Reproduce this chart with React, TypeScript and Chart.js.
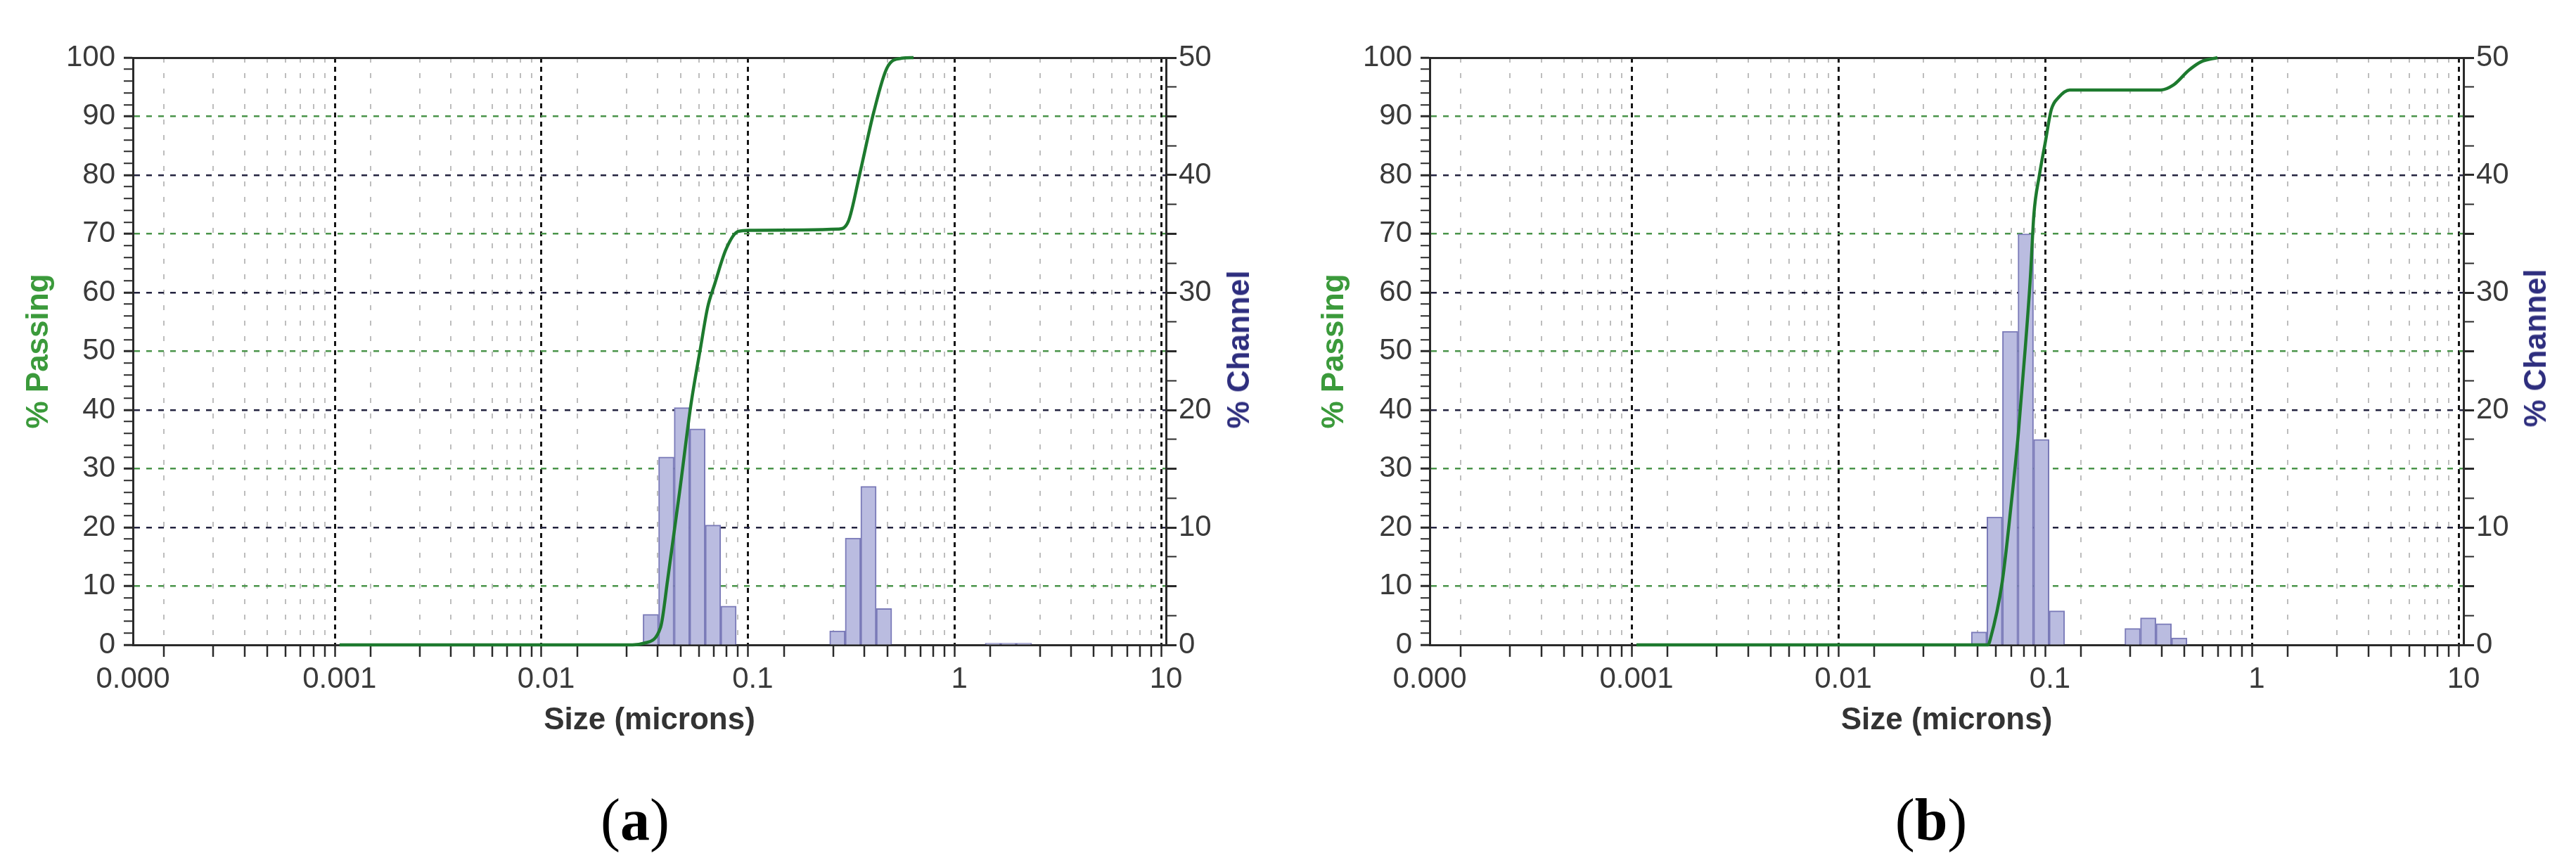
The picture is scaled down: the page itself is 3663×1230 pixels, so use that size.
import React, { useEffect, useRef } from 'react';
import { Chart, registerables } from 'chart.js';

Chart.register(...registerables);

// ---------- axis tick data ----------
const DECADES = [0.0001, 0.001, 0.01, 0.1, 1, 10];
const DECADE_LABELS = ['0.000', '0.001', '0.01', '0.1', '1', '10'];
const MINOR_MULTIPLIERS = [1, 2, 3, 4, 5, 6, 7, 8, 9];

// ---------- panel (a) ----------
const CHANNEL_SIZE_A = [0.0321, 0.03817, 0.0454, 0.05399, 0.0642, 0.07635, 0.2568, 0.3054, 0.3632, 0.4319, 1.4527, 1.7276, 2.0545];
const CHANNEL_PCT_A = [2.6, 16.0, 20.2, 18.4, 10.2, 3.3, 1.2, 9.1, 13.5, 3.1, 0.15, 0.15, 0.15];
const CURVE_SIZE_A = [0.001, 0.0262, 0.0299, 0.0358, 0.0387, 0.0443, 0.0502, 0.056, 0.0605, 0.0655, 0.0743, 0.0849, 0.0968, 0.26, 0.29, 0.329, 0.385, 0.447, 0.526, 0.6];
const PASSING_A = [0, 0, 0.3, 3.0, 11, 26.2, 40.9, 50.8, 57.5, 61.5, 67.4, 70.4, 70.6, 70.8, 72.1, 80.1, 90.7, 98.3, 99.9, 100];

// ---------- panel (b) ----------
const CHANNEL_SIZE_B = [0.0454, 0.05399, 0.0642, 0.07635, 0.0908, 0.108, 0.251, 0.2985, 0.355, 0.4222];
const CHANNEL_PCT_B = [1.1, 10.9, 26.7, 35.0, 17.5, 2.9, 1.4, 2.3, 1.8, 0.6];
const CURVE_SIZE_B = [0.001, 0.0502, 0.0514, 0.0588, 0.065, 0.0703, 0.076, 0.0804, 0.0836, 0.0889, 0.0946, 0.1016, 0.1099, 0.1245, 0.344, 0.394, 0.471, 0.538, 0.646];
const PASSING_B = [0, 0, 0.9, 10.8, 24.1, 36, 50.7, 62.6, 73.3, 80, 85.3, 91.2, 93.2, 94.5, 94.5, 95.3, 97.9, 99.3, 100];

// ---------- styles ----------
const SANS = 'Arial, "Liberation Sans", sans-serif';
const TICK_FONT = { family: SANS, size: 42 };
const TITLE_FONT = { family: SANS, size: 44, weight: 'bold' as const };
const TICK_COLOR = '#3a3a3a';
const AXIS_COLOR = '#2a2a2a';
const GREEN_GRID = '#4a944a';
const DARK_GRID = '#23233f';
const DECADE_GRID = '#151515';
const MINOR_GRID = '#bdbdbd';
const CURVE_COLOR = '#1d7a2e';
const BAR_FILL = '#babce0';
const BAR_BORDER = '#7a7ab8';
const PASSING_TITLE = '#3b9a3b';
const CHANNEL_TITLE = '#2e2e7e';
const BAR_WIDTH_PX = 22;

const X_TICKS: number[] = [];
for (let i = 0; i < DECADES.length - 1; i++) {
  for (const m of MINOR_MULTIPLIERS) X_TICKS.push(DECADES[i] * m);
}
X_TICKS.push(DECADES[DECADES.length - 1]);

function decadeIndex(v: number): number {
  const l = Math.log10(v);
  return DECADES.findIndex((d) => Math.abs(Math.log10(d) - l) < 1e-6);
}

interface PanelSpec {
  sizes: number[];
  channel: number[];
  curveSizes: number[];
  passing: number[];
  yWidth: number;
  y1Width: number;
  passingPad: number;
}

function makeConfig(p: PanelSpec): any {
  const transparent = 'rgba(0,0,0,0)';
  return {
    type: 'bar',
    data: {
      datasets: [
        {
          type: 'line',
          label: '% Passing',
          data: p.curveSizes.map((s, i) => ({ x: s, y: p.passing[i] })),
          xAxisID: 'x',
          yAxisID: 'y',
          borderColor: CURVE_COLOR,
          borderWidth: 4.5,
          pointRadius: 0,
          tension: 0.4,
          cubicInterpolationMode: 'monotone',
          fill: false,
          clip: 8,
          order: 0,
        },
        {
          type: 'bar',
          label: '% Channel',
          data: p.sizes.map((s, i) => ({ x: s, y: p.channel[i] })),
          xAxisID: 'x',
          yAxisID: 'y1',
          backgroundColor: BAR_FILL,
          borderColor: BAR_BORDER,
          borderWidth: 2,
          barThickness: BAR_WIDTH_PX,
          order: 1,
        },
      ],
    },
    options: {
      responsive: false,
      animation: false,
      devicePixelRatio: 1,
      layout: { padding: 0, autoPadding: false },
      plugins: { legend: { display: false }, tooltip: { enabled: false }, title: { display: false } },
      scales: {
        x: {
          type: 'logarithmic',
          position: 'bottom',
          min: DECADES[0],
          max: DECADES[DECADES.length - 1],
          afterBuildTicks: (axis: any) => {
            axis.ticks = X_TICKS.map((v) => ({ value: v, major: decadeIndex(v) >= 0 }));
          },
          afterFit: (s: any) => {
            s.height = 163;
          },
          ticks: {
            autoSkip: false,
            maxRotation: 0,
            minRotation: 0,
            padding: 7,
            font: TICK_FONT,
            color: TICK_COLOR,
            callback: (value: any) => {
              const i = decadeIndex(Number(value));
              return i >= 0 ? DECADE_LABELS[i] : '';
            },
          },
          grid: {
            color: (ctx: any) => (ctx.tick ? (decadeIndex(ctx.tick.value) >= 0 ? DECADE_GRID : MINOR_GRID) : transparent),
            lineWidth: (ctx: any) => (ctx.tick && decadeIndex(ctx.tick.value) >= 0 ? 3 : 2),
            tickLength: 17,
            tickColor: AXIS_COLOR,
            tickWidth: 2.5,
          },
          border: {
            color: AXIS_COLOR,
            width: 3,
            dash: (ctx: any) => (ctx.tick ? (decadeIndex(ctx.tick.value) >= 0 ? [7, 6] : [7, 15]) : []),
          },
          title: {
            display: true,
            text: 'Size (microns)',
            font: TITLE_FONT,
            color: '#333333',
            padding: { top: 0, bottom: 29 },
          },
        },
        xTop: {
          type: 'linear',
          position: 'top',
          min: 0,
          max: 1,
          ticks: { display: false },
          grid: { display: false, drawTicks: false },
          border: { color: AXIS_COLOR, width: 3 },
          afterFit: (s: any) => {
            s.height = 82;
          },
        },
        y: {
          type: 'linear',
          position: 'left',
          min: 0,
          max: 100,
          afterFit: (s: any) => {
            s.width = p.yWidth;
          },
          ticks: {
            stepSize: 2,
            autoSkip: false,
            padding: 12,
            font: TICK_FONT,
            color: TICK_COLOR,
            callback: (v: any) => (Number(v) % 10 === 0 ? String(v) : ''),
          },
          grid: {
            color: (ctx: any) => {
              const v = ctx.tick ? ctx.tick.value : null;
              if (v == null || v % 10 !== 0 || v === 0 || v === 100) return transparent;
              return (v / 10) % 2 === 1 ? GREEN_GRID : DARK_GRID;
            },
            lineWidth: 2.5,
            tickLength: 13,
            tickColor: AXIS_COLOR,
            tickWidth: (ctx: any) => (ctx.tick && ctx.tick.value % 10 === 0 ? 3 : 2),
          },
          border: { color: AXIS_COLOR, width: 3, dash: [8, 9] },
          title: {
            display: true,
            text: '% Passing',
            font: TITLE_FONT,
            color: PASSING_TITLE,
            padding: { top: p.passingPad, bottom: 0 },
          },
        },
        y1: {
          type: 'linear',
          position: 'right',
          min: 0,
          max: 50,
          afterFit: (s: any) => {
            s.width = p.y1Width;
          },
          ticks: {
            stepSize: 2.5,
            autoSkip: false,
            padding: 3,
            font: TICK_FONT,
            color: TICK_COLOR,
            callback: (v: any) => (Math.abs(Number(v) % 10) < 1e-9 ? String(v) : ''),
          },
          grid: {
            drawOnChartArea: false,
            tickLength: 15,
            tickColor: AXIS_COLOR,
            tickWidth: (ctx: any) => (ctx.tick && Math.abs(ctx.tick.value % 5) < 1e-9 ? 3 : 2),
          },
          border: { color: AXIS_COLOR, width: 3 },
        },
      },
    },
  };
}

const PANEL_A: PanelSpec = {
  sizes: CHANNEL_SIZE_A,
  channel: CHANNEL_PCT_A,
  curveSizes: CURVE_SIZE_A,
  passing: PASSING_A,
  yWidth: 189,
  y1Width: 173,
  passingPad: 29,
};

const PANEL_B: PanelSpec = {
  sizes: CHANNEL_SIZE_B,
  channel: CHANNEL_PCT_B,
  curveSizes: CURVE_SIZE_B,
  passing: PASSING_B,
  yWidth: 202,
  y1Width: 160,
  passingPad: 40,
};

const channelTitle = (cx: number, cy: number): React.CSSProperties => ({
  position: 'absolute',
  left: cx,
  top: cy,
  transform: 'translate(-50%, -50%) rotate(-90deg)',
  whiteSpace: 'nowrap',
  fontFamily: SANS,
  fontWeight: 'bold',
  fontSize: 44,
  lineHeight: 1,
  color: CHANNEL_TITLE,
});

const caption = (cx: number, cy: number): React.CSSProperties => ({
  position: 'absolute',
  left: cx,
  top: cy,
  transform: 'translate(-50%, -50%)',
  whiteSpace: 'nowrap',
  fontFamily: '"Liberation Serif", "Times New Roman", serif',
  fontSize: 84,
  lineHeight: 1,
  color: '#000',
});

export default function App() {
  const refA = useRef<HTMLCanvasElement | null>(null);
  const refB = useRef<HTMLCanvasElement | null>(null);

  useEffect(() => {
    const charts: Chart[] = [];
    if (refA.current) charts.push(new Chart(refA.current, makeConfig(PANEL_A)));
    if (refB.current) charts.push(new Chart(refB.current, makeConfig(PANEL_B)));
    return () => {
      charts.forEach((c) => c.destroy());
    };
  }, []);

  return (
    <div style={{ position: 'absolute', left: 0, top: 0, width: 3663, height: 1230, background: '#ffffff', overflow: 'hidden' }}>
      <canvas ref={refA} width={1831} height={1080} style={{ position: 'absolute', left: 0, top: 0, width: 1831, height: 1080 }} />
      <canvas ref={refB} width={1832} height={1080} style={{ position: 'absolute', left: 1831, top: 0, width: 1832, height: 1080 }} />
      <div style={channelTitle(1761, 497)}>% Channel</div>
      <div style={channelTitle(3605, 495)}>% Channel</div>
      <div style={caption(903, 1166)}>
        (<b>a</b>)
      </div>
      <div style={caption(2746, 1166)}>
        (<b>b</b>)
      </div>
    </div>
  );
}
